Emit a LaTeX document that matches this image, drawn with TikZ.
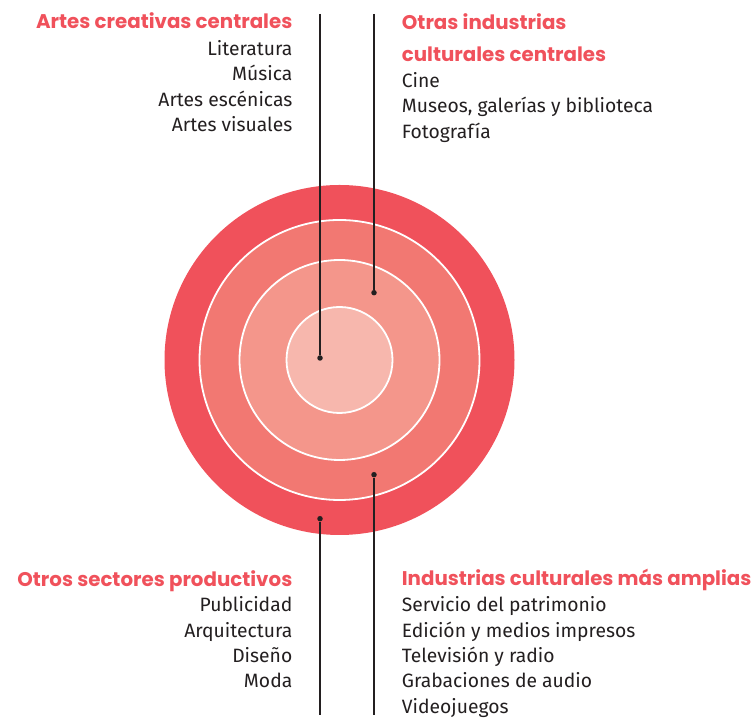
\documentclass[tikz,border=0pt]{standalone}
\usepackage{fontspec}
\setmainfont{Fira Sans}
\newfontfamily\titlefont{Poppins}
\definecolor{ringA}{HTML}{F0515B}
\definecolor{ringB}{HTML}{F27872}
\definecolor{ringC}{HTML}{F4968B}
\definecolor{ringD}{HTML}{F7B7AD}
\definecolor{ink}{HTML}{231F20}
\tikzset{
  ring/.style={circle,draw=white,line width=1.8pt,inner sep=0pt},
  dot/.style={circle,fill=ink,inner sep=0pt,minimum size=5.5pt},
  heading/.style={inner sep=0pt,text=ringA,font=\titlefont\bfseries\fontsize{19.8}{24}\selectfont},
  entry/.style={inner sep=0pt,text=ink,font=\fontsize{19.3}{23}\selectfont},
  leader/.style={draw=ink,line width=1.1pt}
}
\begin{document}
\begin{tikzpicture}[x=1pt,y=1pt]
        \useasboundingbox (0,0) rectangle (755,719);
        \node[circle,fill=ringA,inner sep=0pt,minimum size=350pt] (ringA) at (339.5,359) {};
        \node[ring,fill=ringB,minimum size=280pt] (ringB) at (ringA) {};
        \node[ring,fill=ringC,minimum size=200pt] (ringC) at (ringA) {};
        \node[ring,fill=ringD,minimum size=106pt] (ringD) at (ringA) {};

        \coordinate (topL) at (320,705);
        \coordinate (topR) at (374,705);
        \coordinate (botL) at (320,4);
        \coordinate (botR) at (374,4);
        \node[dot] (dotD) at (320,361) {};
        \node[dot] (dotC) at (374,426.3) {};
        \node[dot] (dotB) at (374,244.3) {};
        \node[dot] (dotA) at (320,200.3) {};
        \draw[leader] (topL) -- (dotD);
        \draw[leader] (topR) -- (dotC);
        \draw[leader] (botR) -- (dotB);
        \draw[leader] (botL) -- (dotA);

{\node[heading,anchor=base east] (headD) at (292.5,690) {Artes creativas centrales};}
\foreach \t [count=\i] in {Literatura,Música,Artes escénicas,Artes visuales}
  {\node[entry,anchor=base east] (listD\i) at (292.5,663.3-25.3*\i+25.3) {\t};}

{\node[heading,anchor=base west] (headC1) at (401.7,689.7) {Otras industrias};}
{\node[heading,anchor=base west] (headC2) at (401.7,657.3) {culturales centrales};}
\foreach \t [count=\i] in {Cine,{Museos, galerías y biblioteca},Fotografía}
  {\node[entry,anchor=base west] (listC\i) at (401.7,631.7-25.4*\i+25.4) {\t};}

{\node[heading,anchor=base east] (headA) at (292.5,132.3) {Otros sectores productivos};}
\foreach \t [count=\i] in {Publicidad,Arquitectura,Diseño,Moda}
  {\node[entry,anchor=base east] (listA\i) at (292.5,107.3-25.4*\i+25.4) {\t};}

{\node[heading,anchor=base west] (headB) at (401.7,133) {Industrias culturales más amplias};}
\foreach \t [count=\i] in {Servicio del patrimonio,Edición y medios impresos,Televisión y radio,Grabaciones de audio,Videojuegos}
  {\node[entry,anchor=base west] (listB\i) at (401.7,107.3-25.4*\i+25.4) {\t};}
\end{tikzpicture}
\end{document}
